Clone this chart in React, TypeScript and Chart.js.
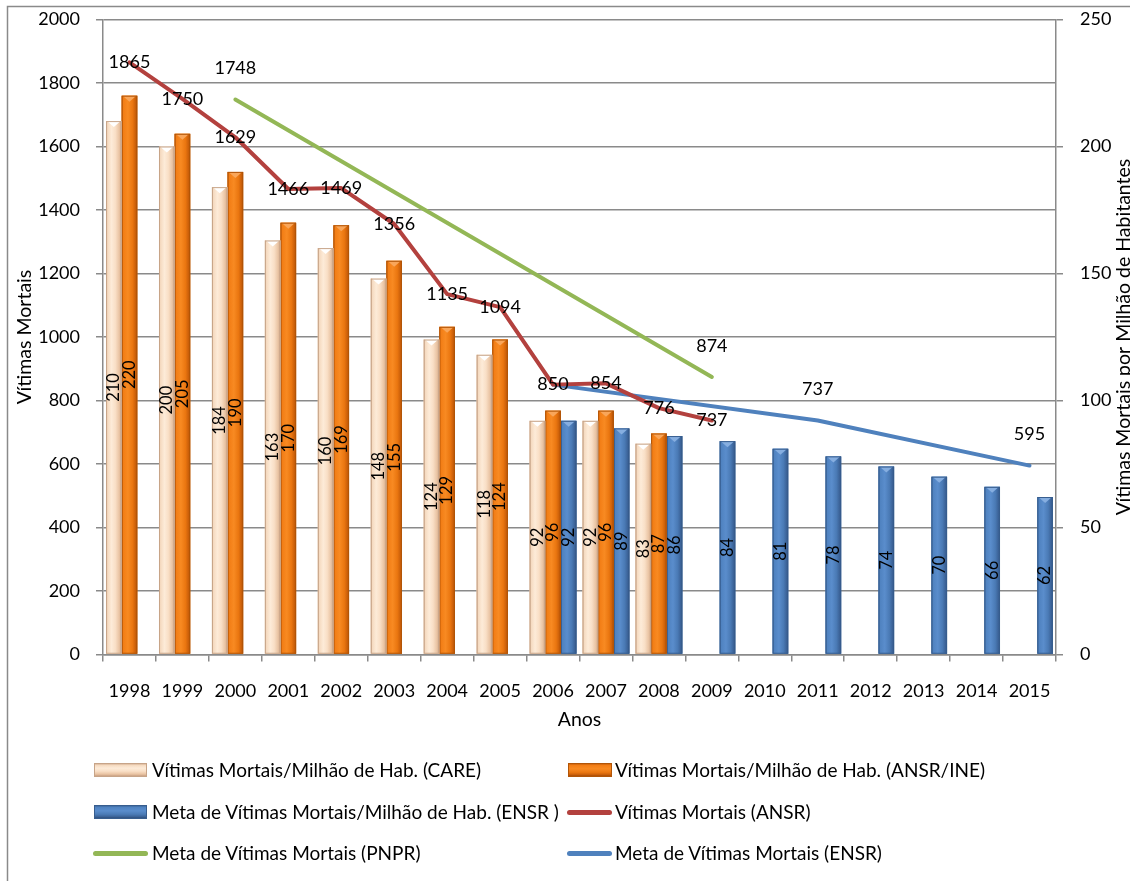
import React, { useEffect, useRef } from 'react';
import { Chart, registerables } from 'chart.js';

Chart.register(...registerables);

const FONT = 'Lato, "Open Sans", sans-serif';

const years = ['1998', '1999', '2000', '2001', '2002', '2003', '2004', '2005', '2006', '2007', '2008', '2009', '2010', '2011', '2012', '2013', '2014', '2015'];
const careBars = [210, 200, 184, 163, 160, 148, 124, 118, 92, 92, 83, null, null, null, null, null, null, null];
const ansrIneBars = [220, 205, 190, 170, 169, 155, 129, 124, 96, 96, 87, null, null, null, null, null, null, null];
const ensrBars = [null, null, null, null, null, null, null, null, 92, 89, 86, 84, 81, 78, 74, 70, 66, 62];
const ansrDeaths = [1865, 1750, 1629, 1466, 1469, 1356, 1135, 1094, 850, 854, 776, 737, null, null, null, null, null, null];
const pnprTarget = [null, null, 1748, null, null, null, null, null, null, null, null, 874, null, null, null, null, null, null];
const ensrTarget = [null, null, null, null, null, null, null, null, 850, null, null, null, null, 737, null, null, null, 595];

const leftAxis = { min: 0, max: 2000, step: 200 };
const rightAxis = { min: 0, max: 250, step: 50 };

const GRID = '#8a8a8a';

const barShades: Record<string, { stops: [number, string][]; cap: string; edge: string }> = {
  care: {
    stops: [[0, '#d8b599'], [0.1, '#f5dac0'], [0.35, '#fdebd8'], [0.6, '#f9dfc6'], [0.85, '#e9c3a2'], [1, '#c9a184']],
    cap: '#ffffff',
    edge: '#c7a488',
  },
  ansr: {
    stops: [[0, '#c8600c'], [0.1, '#f27d15'], [0.4, '#f88a22'], [0.7, '#ea7610'], [0.9, '#c95e09'], [1, '#a54b06']],
    cap: '#f9a65a',
    edge: '#b25507',
  },
  ensr: {
    stops: [[0, '#3d679c'], [0.1, '#4f82c0'], [0.4, '#5a8dcc'], [0.7, '#4a7ab5'], [0.9, '#3b6297'], [1, '#2f4f7a']],
    cap: '#86aee0',
    edge: '#375d8e',
  },
};

const shadePlugin = {
  id: 'shadeBars',
  afterDatasetDraw(chart: any, args: any) {
    const ds = chart.data.datasets[args.index];
    const key = ds.shadeKey;
    if (!key) return;
    const sh = barShades[key];
    const ctx: CanvasRenderingContext2D = chart.ctx;
    args.meta.data.forEach((el: any, i: number) => {
      const v = ds.data[i];
      if (v == null) return;
      const { x, y, base, width } = el.getProps(['x', 'y', 'base', 'width'], true);
      const x0 = x - width / 2;
      const x1 = x + width / 2;
      const g = ctx.createLinearGradient(x0, 0, x1, 0);
      sh.stops.forEach(([o, c]) => g.addColorStop(o, c));
      ctx.save();
      ctx.fillStyle = g;
      ctx.fillRect(x0, y, width, base - y);
      ctx.beginPath();
      ctx.moveTo(x0 + 1, y);
      ctx.lineTo(x1 - 1, y);
      ctx.lineTo(x, y + 6);
      ctx.closePath();
      ctx.fillStyle = sh.cap;
      ctx.fill();
      ctx.strokeStyle = sh.edge;
      ctx.lineWidth = 1;
      ctx.strokeRect(x0 + 0.5, y + 0.5, width - 1, base - y - 1);
      ctx.restore();
    });
  },
};

const labelPlugin = {
  id: 'valueLabels',
  afterDatasetsDraw(chart: any) {
    const ctx: CanvasRenderingContext2D = chart.ctx;
    ctx.save();
    ctx.fillStyle = '#000';
    ctx.textAlign = 'center';
    ctx.textBaseline = 'middle';
    chart.data.datasets.forEach((ds: any, di: number) => {
      const meta = chart.getDatasetMeta(di);
      meta.data.forEach((el: any, i: number) => {
        const v = ds.data[i];
        if (v == null) return;
        if (ds.labelSkip && ds.labelSkip.includes(i)) return;
        const { x, y, base } = el.getProps(['x', 'y', 'base'], true);
        if (meta.type === 'bar') {
          ctx.save();
          ctx.font = `16.5px ${FONT}`;
          ctx.translate(x, (y + base) / 2);
          ctx.rotate(-Math.PI / 2);
          ctx.fillText(String(v), 0, 0);
          ctx.restore();
        } else {
          ctx.font = `18px ${FONT}`;
          ctx.fillText(String(v), x, y + (ds.labelDy || 0));
        }
      });
    });
    ctx.restore();
  },
};

const framePlugin = {
  id: 'frame',
  beforeDraw(chart: any) {
    const ctx: CanvasRenderingContext2D = chart.ctx;
    ctx.save();
    ctx.strokeStyle = GRID;
    ctx.lineWidth = 1.5;
    ctx.beginPath();
    ctx.moveTo(7.5, 881);
    ctx.lineTo(7.5, 6.5);
    ctx.lineTo(1130, 6.5);
    ctx.stroke();
    ctx.restore();
  },
  afterDraw(chart: any) {
    const ctx: CanvasRenderingContext2D = chart.ctx;
    const area = chart.chartArea;
    ctx.save();
    ctx.fillStyle = '#000';
    ctx.font = `19.5px ${FONT}`;
    ctx.textAlign = 'center';
    ctx.textBaseline = 'alphabetic';
    ctx.translate(1130, (area.top + area.bottom) / 2);
    ctx.rotate(-Math.PI / 2);
    ctx.fillText('Vítimas Mortais por Milhão de Habitantes', 0, 0);
    ctx.restore();
  },
};

const legendRows = [
  { y: 770, items: [
    { kind: 'bar', shade: 'care', x: 94, w: 53, text: 'Vítimas Mortais/Milhão de Hab. (CARE)', tx: 152 },
    { kind: 'bar', shade: 'ansr', x: 568, w: 44, text: 'Vítimas Mortais/Milhão de Hab. (ANSR/INE)', tx: 615 },
  ] },
  { y: 812, items: [
    { kind: 'bar', shade: 'ensr', x: 94, w: 53, text: 'Meta de Vítimas Mortais/Milhão de Hab. (ENSR )', tx: 152 },
    { kind: 'line', color: '#b3413e', x: 567, w: 45, text: 'Vítimas Mortais (ANSR)', tx: 615 },
  ] },
  { y: 853, items: [
    { kind: 'line', color: '#93b756', x: 93, w: 55, text: 'Meta de Vítimas Mortais (PNPR)', tx: 152 },
    { kind: 'line', color: '#4f81bd', x: 567, w: 45, text: 'Meta de Vítimas Mortais (ENSR)', tx: 615 },
  ] },
];

function swatchStyle(it: any): React.CSSProperties {
  if (it.kind === 'line') {
    return { position: 'absolute', left: it.x, width: it.w, height: 5, borderRadius: 3, background: it.color, top: -2.5 };
  }
  const sh = barShades[it.shade];
  const stops = sh.stops.map(([o, c]) => `${c} ${Math.round(o * 100)}%`).join(', ');
  return {
    position: 'absolute', left: it.x, width: it.w, height: 14, top: -7, boxSizing: 'border-box',
    border: `1px solid ${sh.edge}`, background: `linear-gradient(to bottom, ${stops})`,
  };
}

export default function App() {
  const ref = useRef<HTMLCanvasElement>(null);
  useEffect(() => {
    if (!ref.current) return;
    const chart = new Chart(ref.current, {
      type: 'bar',
      data: {
        labels: years,
        datasets: [
          {
            type: 'line', label: 'Vítimas Mortais (ANSR)', data: ansrDeaths as any, yAxisID: 'y', order: 0,
            borderColor: '#b3413e', backgroundColor: '#b3413e', borderWidth: 4, pointRadius: 0, spanGaps: true,
            borderCapStyle: 'round', borderJoinStyle: 'round', labelDy: 0,
          } as any,
          {
            type: 'line', label: 'Meta de Vítimas Mortais (PNPR)', data: pnprTarget as any, yAxisID: 'y', order: 0,
            borderColor: '#93b756', backgroundColor: '#93b756', borderWidth: 4, pointRadius: 0, spanGaps: true,
            borderCapStyle: 'round', borderJoinStyle: 'round', labelDy: -31,
          } as any,
          {
            type: 'line', label: 'Meta de Vítimas Mortais (ENSR)', data: ensrTarget as any, yAxisID: 'y', order: 0,
            borderColor: '#4f81bd', backgroundColor: '#4f81bd', borderWidth: 4, pointRadius: 0, spanGaps: true,
            borderCapStyle: 'round', borderJoinStyle: 'round', labelDy: -31, labelSkip: [8],
          } as any,
          {
            type: 'bar', label: 'Vítimas Mortais/Milhão de Hab. (CARE)', data: careBars as any, yAxisID: 'y1', order: 1,
            backgroundColor: '#fbe0c6', shadeKey: 'care',
          } as any,
          {
            type: 'bar', label: 'Vítimas Mortais/Milhão de Hab. (ANSR/INE)', data: ansrIneBars as any, yAxisID: 'y1', order: 1,
            backgroundColor: '#f27d15', shadeKey: 'ansr',
          } as any,
          {
            type: 'bar', label: 'Meta de Vítimas Mortais/Milhão de Hab. (ENSR )', data: ensrBars as any, yAxisID: 'y1', order: 1,
            backgroundColor: '#4f82c0', shadeKey: 'ensr',
          } as any,
        ],
      },
      options: {
        responsive: false,
        animation: false,
        devicePixelRatio: 1,
        datasets: { bar: { categoryPercentage: 0.885, barPercentage: 1 } },
        layout: { padding: { top: 19.5, left: 0, right: 0, bottom: 126.5 } },
        plugins: { legend: { display: false }, tooltip: { enabled: false } },
        scales: {
          x: {
            type: 'category',
            offset: true,
            grid: { offset: true, drawOnChartArea: false, drawTicks: true, tickLength: 7, color: GRID, lineWidth: 1.5 },
            border: { display: true, color: GRID, width: 1.5 },
            ticks: { font: { family: FONT, size: 18 }, color: '#000', padding: 19, maxRotation: 0, autoSkip: false },
            title: { display: true, text: 'Anos', font: { family: FONT, size: 19.5 }, color: '#000', padding: { top: 0, bottom: 23 } },
            afterFit: (s: any) => { s.height = 100; s.paddingLeft = 0; s.paddingRight = 0; },
          },
          y: {
            position: 'left',
            min: leftAxis.min, max: leftAxis.max,
            ticks: { stepSize: leftAxis.step, font: { family: FONT, size: 18 }, color: '#000', padding: 16, callback: (v: any) => String(v) },
            grid: { color: GRID, lineWidth: 1.5, tickLength: 7, drawTicks: true },
            border: { display: true, color: GRID, width: 1.5 },
            title: { display: true, text: 'Vítimas Mortais', font: { family: FONT, size: 19.5 }, color: '#000', padding: { top: 13, bottom: 0 } },
            afterFit: (s: any) => { s.width = 103; s.paddingTop = 0; s.paddingBottom = 0; },
          },
          y1: {
            position: 'right',
            min: rightAxis.min, max: rightAxis.max,
            ticks: { stepSize: rightAxis.step, font: { family: FONT, size: 18 }, color: '#000', padding: 17, callback: (v: any) => String(v) },
            grid: { drawOnChartArea: false, color: GRID, lineWidth: 1.5, tickLength: 7, drawTicks: true },
            border: { display: true, color: GRID, width: 1.5 },
            afterFit: (s: any) => { s.width = 74; s.paddingTop = 0; s.paddingBottom = 0; },
          },
        },
      },
      plugins: [framePlugin, shadePlugin, labelPlugin],
    });
    return () => chart.destroy();
  }, []);

  return (
    <div style={{ position: 'fixed', left: 0, top: 0, width: 1130, height: 881, background: '#fff', fontFamily: FONT }}>
      <canvas ref={ref} width={1130} height={881} style={{ width: 1130, height: 881, display: 'block' }} />
      {legendRows.map((row, ri) => (
        <div key={ri} style={{ position: 'absolute', left: 0, top: row.y, width: 1130, height: 0 }}>
          {row.items.map((it: any, ii) => (
            <React.Fragment key={ii}>
              <div style={swatchStyle(it)} />
              <div style={{ position: 'absolute', left: it.tx, top: -12, fontSize: 19, lineHeight: '24px', whiteSpace: 'nowrap', color: '#000' }}>{it.text}</div>
            </React.Fragment>
          ))}
        </div>
      ))}
    </div>
  );
}
